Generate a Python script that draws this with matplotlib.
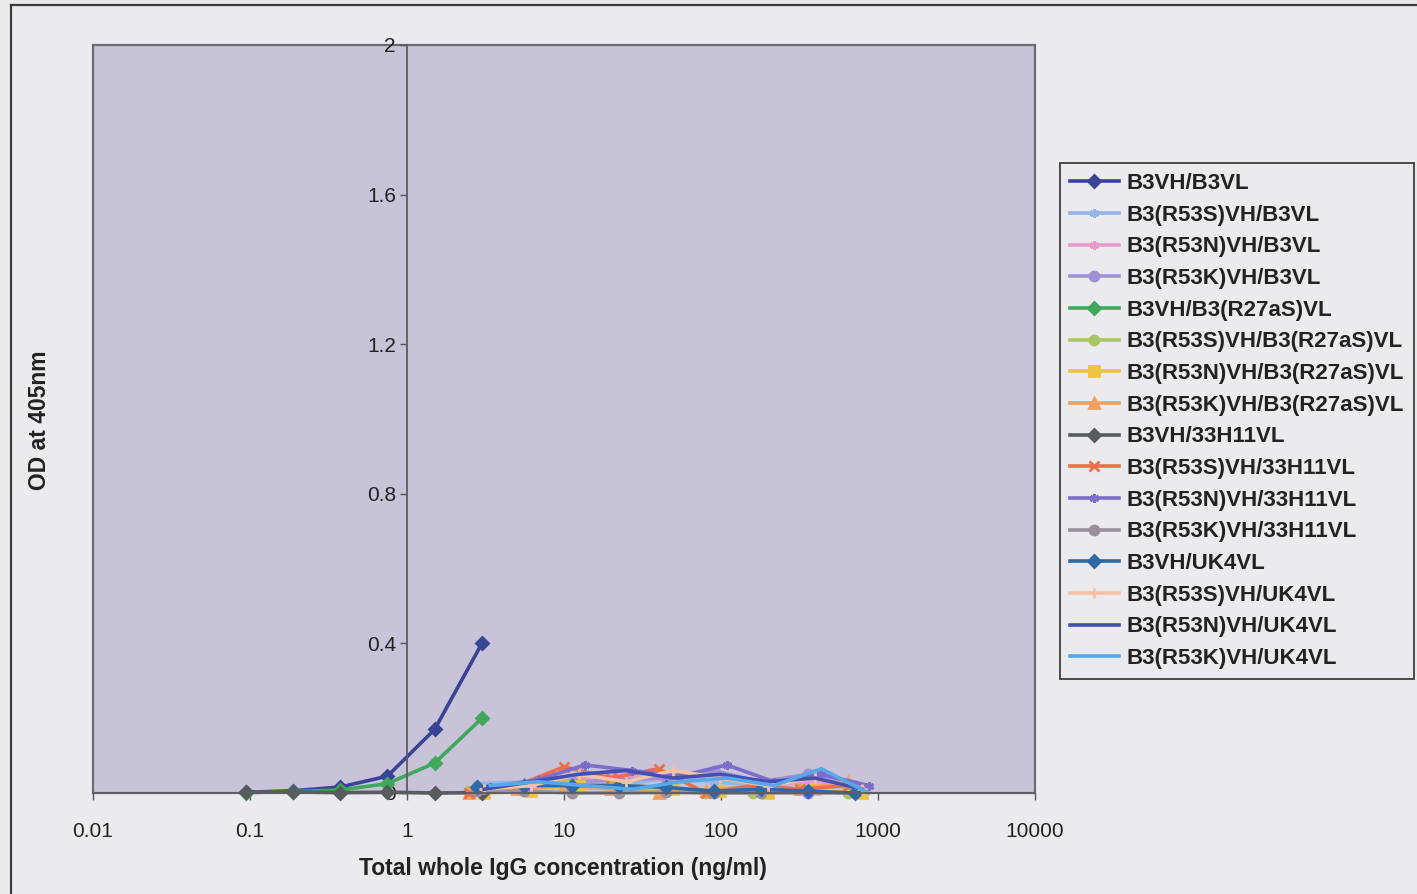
import matplotlib
matplotlib.use("Agg")
import matplotlib.pyplot as plt
from matplotlib.lines import Line2D
from matplotlib.patches import Rectangle

plt.rcParams["font.family"] = ["Liberation Sans", "DejaVu Sans"]

# ---- data ----
series_names = [
    "B3VH/B3VL", "B3(R53S)VH/B3VL", "B3(R53N)VH/B3VL", "B3(R53K)VH/B3VL",
    "B3VH/B3(R27aS)VL", "B3(R53S)VH/B3(R27aS)VL", "B3(R53N)VH/B3(R27aS)VL",
    "B3(R53K)VH/B3(R27aS)VL", "B3VH/33H11VL", "B3(R53S)VH/33H11VL",
    "B3(R53N)VH/33H11VL", "B3(R53K)VH/33H11VL", "B3VH/UK4VL",
    "B3(R53S)VH/UK4VL", "B3(R53N)VH/UK4VL", "B3(R53K)VH/UK4VL",
]

conc_wt = [0.094, 0.188, 0.375, 0.75, 1.5, 3.0]
conc_a = [2.5, 5.0, 10.0, 20.0, 40.0, 80.0, 160.0, 320.0, 640.0]
conc_b = [2.8, 5.6, 11.2, 22.4, 44.8, 89.6, 179.0, 358.0, 717.0]
conc_c = [3.1, 6.2, 12.4, 24.8, 49.6, 99.0, 198.0, 397.0, 794.0]
conc_d = [3.4, 6.8, 13.6, 27.2, 54.4, 109.0, 218.0, 435.0, 870.0]

od_b3vh_b3vl = [0.002, 0.006, 0.016, 0.045, 0.17, 0.40]
od_r53s_b3vl = [0.025, 0.03, 0.03, 0.02, 0.04, 0.03, 0.02, 0.04, 0.02]
od_r53n_b3vl = [0.01, 0.02, 0.04, 0.05, 0.03, 0.04, 0.02, 0.03, 0.01]
od_r53k_b3vl = [0.015, 0.02, 0.03, 0.035, 0.04, 0.06, 0.03, 0.05, 0.02]
od_b3vh_r27 = [0.001, 0.004, 0.008, 0.025, 0.08, 0.20]
od_r53s_r27 = [0.005, 0.01, 0.03, 0.015, 0.005, 0.0, 0.0, 0.01, 0.0]
od_r53n_r27 = [0.0, 0.005, 0.02, 0.02, 0.01, 0.005, 0.0, 0.01, 0.0]
od_r53k_r27 = [0.0, 0.01, 0.02, 0.01, 0.0, 0.005, 0.02, 0.01, 0.03]
od_b3vh_33h = [0.002, 0.003, 0.001, 0.002, 0.0, 0.001]
od_r53s_33h = [0.0, 0.02, 0.07, 0.04, 0.065, 0.0, 0.02, 0.01, 0.02]
od_r53n_33h = [0.015, 0.035, 0.075, 0.06, 0.045, 0.075, 0.03, 0.05, 0.02]
od_r53k_33h = [0.005, 0.005, 0.0, 0.0, 0.002, 0.0, 0.0, 0.0, 0.0]
od_b3vh_uk4 = [0.015, 0.02, 0.02, 0.02, 0.015, 0.005, 0.01, 0.005, 0.0]
od_r53s_uk4 = [0.01, 0.02, 0.05, 0.03, 0.06, 0.04, 0.02, 0.04, 0.01]
od_r53n_uk4 = [0.01, 0.03, 0.05, 0.06, 0.04, 0.05, 0.03, 0.04, 0.01]
od_r53k_uk4 = [0.02, 0.03, 0.02, 0.01, 0.03, 0.04, 0.02, 0.065, 0.0]

series_x = [conc_wt, conc_b, conc_c, conc_b, conc_wt, conc_a, conc_c, conc_a,
            conc_wt, conc_a, conc_d, conc_b, conc_b, conc_c, conc_c, conc_d]
series_y = [od_b3vh_b3vl, od_r53s_b3vl, od_r53n_b3vl, od_r53k_b3vl,
            od_b3vh_r27, od_r53s_r27, od_r53n_r27, od_r53k_r27,
            od_b3vh_33h, od_r53s_33h, od_r53n_33h, od_r53k_33h,
            od_b3vh_uk4, od_r53s_uk4, od_r53n_uk4, od_r53k_uk4]

x_ticks = [0.01, 0.1, 1, 10, 100, 1000, 10000]
x_ticklabels = ["0.01", "0.1", "1", "10", "100", "1000", "10000"]
y_ticks = [0, 0.4, 0.8, 1.2, 1.6, 2.0]
y_ticklabels = ["0", "0.4", "0.8", "1.2", "1.6", "2"]

# ---- styles ----
colors = ["#3a4496", "#93b6e6", "#e79bc9", "#a190d6", "#3fa85a", "#a9c663",
          "#efc23f", "#f09f5e", "#565c5e", "#ef6e48", "#7b6dc9", "#9a8f9c",
          "#2f69a8", "#f6c2a4", "#4150b2", "#55a9e8"]
markers = ["D", (6, 2, 0), (6, 2, 0), "o", "D", "o", "s", "^", "D", "x",
           (6, 2, 0), "o", "D", "+", "None", "None"]

FIG_BG = "#ebebef"
PLOT_BG = "#c8c3d9"

fig = plt.figure(figsize=(14.17, 8.94), dpi=100, facecolor=FIG_BG)
ax = fig.add_axes([93 / 1417, 1 - 793 / 894, (1035 - 93) / 1417, (793 - 45) / 894])
ax.set_facecolor(PLOT_BG)

for xs, ys, name, c, m in zip(series_x, series_y, series_names, colors, markers):
    ax.plot(xs, ys, color=c, lw=2.6, marker=m, ms=6.5, mew=2.0,
            mfc=c, mec=c, label=name, clip_on=False)

ax.set_xscale("log")
ax.set_xlim(0.01, 10000)
ax.set_ylim(0, 2)

# y axis crosses at x = 1 (this resets ticks, so style them afterwards)
ax.spines["left"].set_position(("data", 1))
for s in ["left", "bottom"]:
    ax.spines[s].set_color("#5c5c64")
    ax.spines[s].set_linewidth(1.3)
for s in ["top", "right"]:
    ax.spines[s].set_visible(False)
ax.add_patch(Rectangle((0, 0), 1, 1, transform=ax.transAxes, fill=False,
                       ec="#6a6a72", lw=1.6, zorder=0.5, clip_on=False))

ax.minorticks_off()
ax.set_xticks(x_ticks)
ax.set_xticklabels(x_ticklabels)
ax.set_yticks(y_ticks)
ax.set_yticklabels(y_ticklabels)
ax.tick_params(axis="x", direction="out", length=5, width=1, pad=16,
               color="#555555", labelsize=15, labelcolor="#222222")
ax.tick_params(axis="y", direction="out", length=5, width=1, pad=3,
               color="#555555", labelsize=15, labelcolor="#222222")

fig.text(40 / 1417, 1 - 420 / 894, "OD at 405nm", rotation=90, fontsize=16.5,
         fontweight="bold", ha="center", va="center", color="#222222")
fig.text(563 / 1417, 1 - 868 / 894, "Total whole IgG concentration (ng/ml)",
         fontsize=16.5, fontweight="bold", ha="center", va="center", color="#222222")

leg = fig.legend(loc="upper left", bbox_to_anchor=(1060 / 1417, 1 - 163 / 894),
                 frameon=True, fancybox=False, fontsize=16, handlelength=2.2,
                 labelspacing=0.48, borderpad=0.45, handletextpad=0.35,
                 borderaxespad=0)
leg.get_frame().set_edgecolor("#111111")
leg.get_frame().set_linewidth(1.3)
leg.get_frame().set_facecolor("#ececf0")
for t in leg.get_texts():
    t.set_fontweight("bold")
    t.set_color("#222222")

# outer chart border
fig.add_artist(Line2D([11 / 1417, 11 / 1417], [0, 1 - 5 / 894], color="#3c3c3c", lw=1.6))
fig.add_artist(Line2D([11 / 1417, 1], [1 - 5 / 894, 1 - 5 / 894], color="#3c3c3c", lw=1.6))

fig.savefig("out.png", dpi=100, facecolor=FIG_BG)
